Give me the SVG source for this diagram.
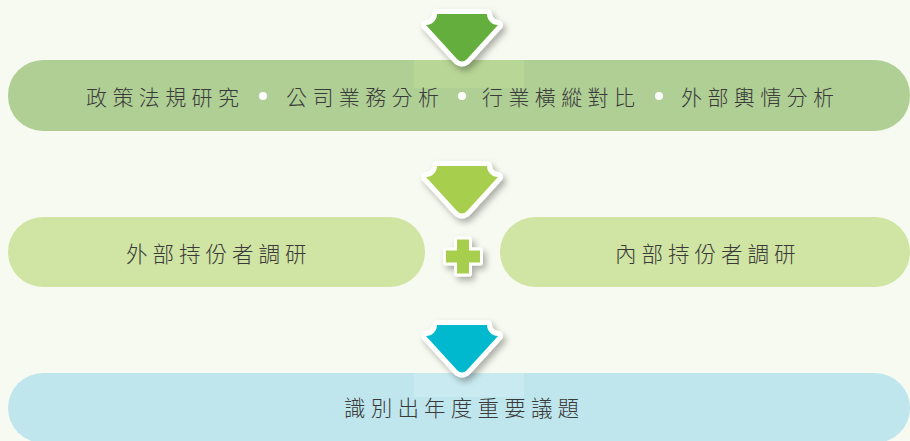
<svg xmlns="http://www.w3.org/2000/svg" width="910" height="441" viewBox="0 0 910 441">
  <defs>
    <filter id="shadow" x="-30%" y="-30%" width="170%" height="170%">
      <feDropShadow dx="3" dy="4" stdDeviation="3" flood-color="#000" flood-opacity="0.3"/>
    </filter>
    <path id="arrow" d="M -25,0 L 25,0 A 11 11 0 0 0 36,11 L 5,45 Q 0,50 -5,45 L -36,11 A 11 11 0 0 0 -25,0 Z"/>
  </defs>
  <style>
    .label { font-family: "Noto Sans CJK TC", "Noto Sans CJK SC", sans-serif; fill: #3a3a3a; font-weight: 300; }
    .arrow { stroke: #ffffff; stroke-width: 10; stroke-linejoin: round; paint-order: stroke fill; }
    .bullet { fill: #ffffff; }
  </style>
  <rect width="910" height="441" fill="#f7faf0"/>

  <g id="band-research">
    <rect x="8" y="60" width="902" height="71" rx="35" ry="35" fill="#afcf95"/>
    <rect x="414" y="60" width="110" height="28" fill="#b8d696"/>
    <text class="label" font-size="21" letter-spacing="5.4" y="104.5">
      <tspan x="86">政策法規研究</tspan>
      <tspan x="286">公司業務分析</tspan>
      <tspan x="482">行業橫縱對比</tspan>
      <tspan x="681">外部輿情分析</tspan>
    </text>
    <circle class="bullet" cx="263" cy="96" r="4"/>
    <circle class="bullet" cx="462" cy="96" r="4"/>
    <circle class="bullet" cx="659" cy="96" r="4"/>
  </g>

  <g id="band-external">
    <rect x="8" y="217" width="417" height="70" rx="35" ry="35" fill="#d0e4a3"/>
    <text class="label" font-size="21.5" letter-spacing="5" x="126" y="262">外部持份者調研</text>
  </g>

  <g id="band-internal">
    <rect x="500" y="217" width="410" height="70" rx="35" ry="35" fill="#d0e4a3"/>
    <text class="label" font-size="21.5" letter-spacing="5" x="615" y="262">內部持份者調研</text>
  </g>

  <g id="band-result">
    <rect x="8" y="373" width="902" height="70" rx="35" ry="35" fill="#bfe6ed"/>
    <rect x="414" y="373" width="110" height="24" fill="#c8eaf0"/>
    <text class="label" font-size="21.5" letter-spacing="5.2" x="344" y="416">識別出年度重要議題</text>
  </g>

  <g id="connectors">
    <g id="arrow-1" filter="url(#shadow)">
      <use href="#arrow" class="arrow" transform="translate(462,14)" fill="#63ae3d"/>
    </g>
    <g id="arrow-2" filter="url(#shadow)">
      <use href="#arrow" class="arrow" transform="translate(462,166)" fill="#a7cf4e"/>
    </g>
    <g id="plus" filter="url(#shadow)">
      <path d="M -6,-17 h12 v11 h11 v12 h-11 v11 h-12 v-11 h-11 v-12 h11 z" transform="translate(463,256.5)" fill="#a7cf4e" stroke="#ffffff" stroke-width="6" stroke-linejoin="round" paint-order="stroke fill"/>
    </g>
    <g id="arrow-3" filter="url(#shadow)">
      <use href="#arrow" class="arrow" transform="translate(462,325)" fill="#00b9cf"/>
    </g>
  </g>
</svg>
